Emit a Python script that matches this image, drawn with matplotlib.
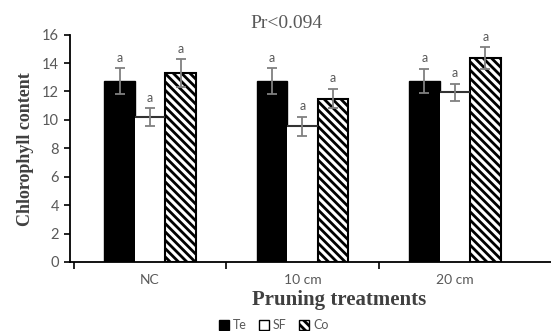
import matplotlib
matplotlib.use("Agg")
import matplotlib.pyplot as plt
import numpy as np
from matplotlib.patches import Patch

categories = ["NC", "10 cm", "20 cm"]
series_names = ["Te", "SF", "Co"]
te_vals = [12.75, 12.75, 12.75]
te_err = [0.9, 0.9, 0.85]
sf_vals = [10.2, 9.55, 11.95]
sf_err = [0.6, 0.68, 0.6]
co_vals = [13.28, 11.5, 14.35]
co_err = [1.0, 0.7, 0.78]
letters = [["a", "a", "a"], ["a", "a", "a"], ["a", "a", "a"]]
y_ticks = [0, 2, 4, 6, 8, 10, 12, 14, 16]
title = "Pr<0.094"
ylabel = "Chlorophyll content"
xlabel = "Pruning treatments"

plt.rcParams['hatch.linewidth'] = 2.0
fig = plt.figure(figsize=(5.51, 3.31), dpi=100)
ax = fig.add_axes([0.127, 0.2085, 0.873, 0.687])

x = np.arange(len(categories))
w = 0.2
gray = "#808080"
tick_col = "#595959"

ax.bar(x - w, te_vals, w, color="black", edgecolor="black", linewidth=1.0, zorder=2)
ax.bar(x, sf_vals, w, color="white", edgecolor="none", zorder=2)
ax.hlines(sf_vals, x - w / 2, x + w / 2, color="#333333", linewidth=1.5, zorder=3)
ax.bar(x + w, co_vals, w, color="white", edgecolor="black", hatch="\\\\\\\\", linewidth=1.5, zorder=2)

ekw = dict(fmt="none", ecolor=gray, elinewidth=1.3, capsize=3.5, capthick=1.3, zorder=4)
ax.errorbar(x - w, te_vals, yerr=te_err, **ekw)
ax.errorbar(x, sf_vals, yerr=sf_err, **ekw)
ax.errorbar(x + w, co_vals, yerr=co_err, **ekw)

for i in range(len(categories)):
    for j, (vals, errs) in enumerate([(te_vals, te_err), (sf_vals, sf_err), (co_vals, co_err)]):
        ax.text(x[i] + (j - 1) * w, vals[i] + errs[i] + 0.3, letters[i][j],
                ha="center", va="bottom", fontsize=9, color=tick_col, family="Lato")

ax.set_ylim(0, 16)
ax.set_yticks(y_ticks)
ax.set_xlim(-0.525, 2.63)
ax.set_xticks(x)
ax.set_xticklabels(categories)
ax.set_xticks([-0.5, 0.5, 1.5], minor=True)
ax.tick_params(axis="x", which="major", length=0, pad=9, labelsize=10, labelcolor=tick_col)
ax.tick_params(axis="x", which="minor", length=5, width=1.2, direction="out")
ax.tick_params(axis="y", length=4, width=1.2, direction="out", labelsize=10.5, labelcolor=tick_col, pad=4)
for lab in ax.get_xticklabels() + ax.get_yticklabels():
    lab.set_family("Lato")

for s in ["top", "right"]:
    ax.spines[s].set_visible(False)
for s in ["left", "bottom"]:
    ax.spines[s].set_linewidth(1.3)

fig.text(0.52, 0.928, title, ha="center", va="center", fontsize=14,
         family="Liberation Serif", color=tick_col)
fig.text(0.047, 0.55, ylabel, ha="center", va="center", rotation=90, fontsize=13,
         family="Liberation Serif", fontweight="bold", color="#404040")
fig.text(0.615, 0.093, xlabel, ha="center", va="center", fontsize=15,
         family="Liberation Serif", fontweight="bold", color="#404040")

handles = [Patch(facecolor="black", edgecolor="black"),
           Patch(facecolor="white", edgecolor="black", linewidth=1.0),
           Patch(facecolor="white", edgecolor="black", hatch="\\\\\\\\", linewidth=1.0)]
leg = fig.legend(handles, series_names, loc="center", bbox_to_anchor=(0.497, 0.017), ncol=3,
                 frameon=False, fontsize=9, handlelength=0.8, handleheight=0.8,
                 handletextpad=0.3, columnspacing=1.0, borderpad=0)
for t in leg.get_texts():
    t.set_color(tick_col)
    t.set_family("Lato")

fig.savefig("out.png", dpi=100)
